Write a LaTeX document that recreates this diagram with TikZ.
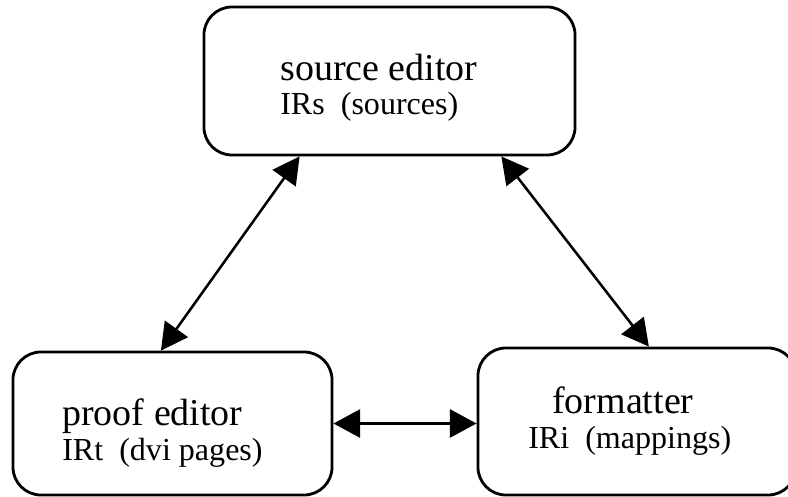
\documentclass[tikz,border=0pt]{standalone}
\usepackage{fontspec}
\setmainfont{Liberation Serif}
\usetikzlibrary{arrows.meta, positioning}

\begin{document}
\begin{tikzpicture}[x=0.025cm, y=-0.025cm,
        box/.style={draw, line width=2pt, rounded corners=0.7cm, inner sep=0pt},
        title/.style={anchor=base west, inner sep=0pt, font=\fontsize{27}{32}\selectfont},
        repr/.style={anchor=base west, inner sep=0pt, font=\fontsize{22.8}{28}\selectfont},
        link/.style={{Triangle[length=19pt, width=20pt]}-{Triangle[length=19pt, width=20pt]}, line width=1.8pt}
    ]
        \useasboundingbox (0,0) rectangle (788,497);

        % Define the three editor boxes
        \node[box, minimum width=9.275cm, minimum height=3.7cm] (source) at (389.5,81) {};
        \node[box, minimum width=7.975cm, minimum height=3.575cm] (proof) at (172.5,423.5) {};
        \node[box, minimum width=7.95cm, minimum height=3.675cm] (format) at (637,421.5) {};

        % Texts inside the boxes
        \node[title] (sourcename) at (280,81) {source editor};
        \node[repr] (sourceir) at (280,115) {IRs~~(sources)};
        \node[title] (proofname) at (62,425) {proof editor};
        \node[repr] (proofir) at (62,460) {IRt~~(dvi pages)};
        \node[title] (formatname) at (552,413) {formatter};
        \node[repr] (formatir) at (528,448) {IRi~~(mappings)};

        % Links between the editors
        \draw[link] (source.220.5) -- (proof.99.9);
        \draw[link] (source.326.9) -- (format.81.5);
        \draw[link] (proof.east) -- (proof.east -| format.west);

    \end{tikzpicture}
\end{document}
